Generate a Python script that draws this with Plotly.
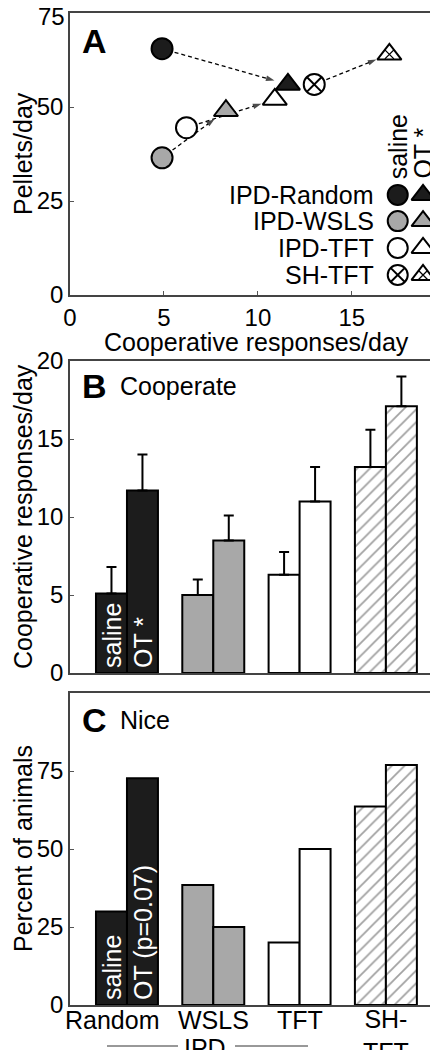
import math
import plotly.graph_objects as go

# ---------------- data ----------------
groups = ["IPD-Random", "IPD-WSLS", "IPD-TFT", "SH-TFT"]
bar_labels = ["Random", "WSLS", "TFT", "SH-<br>TFT"]

# Panel A: cooperative responses/day (x) vs pellets/day (y)
coop_saline = [4.9, 4.9, 6.2, 13.0]
pellets_saline = [65.5, 36.5, 44.5, 56.0]
coop_ot = [11.6, 8.3, 10.9, 17.0]
pellets_ot = [56.0, 49.0, 52.0, 64.0]

# Panel B: cooperate (mean and upper error)
coop_b_saline = [5.1, 5.0, 6.3, 13.2]
coop_b_saline_err = [1.7, 1.0, 1.45, 2.4]
coop_b_ot = [11.7, 8.5, 11.0, 17.1]
coop_b_ot_err = [2.3, 1.6, 2.2, 1.9]

# Panel C: nice (% of animals)
nice_saline = [30.0, 38.5, 20.0, 63.6]
nice_ot = [72.7, 25.0, 50.0, 76.9]

a_xticks = [0, 5, 10, 15]
a_yticks = [0, 25, 50, 75]
b_yticks = [0, 5, 10, 15, 20]
c_yticks = [0, 25, 50, 75]

# ---------------- style ----------------
FONT = "Liberation Sans, Arial, Helvetica, sans-serif"
BLACK = "#1c1c1c"
GREY = "#a8a8a8"
fills = [BLACK, GREY, "white", "white"]
patterns = ["", "", "", "/"]
circ_sym = ["circle", "circle", "circle", "circle-x"]

W, H = 438, 1050
ML, MR, MT, MB = 62, 4, 5, 53
PW = W - ML - MR
PH = H - MT - MB

def py(page_y):  # pixel row -> paper y
    return (H - MB - page_y) / PH

def pxp(page_x):  # pixel col -> paper x
    return (page_x - ML) / PW

domA = [py(287), 1.0]
domB = [py(665), py(353)]
domC = [0.0, py(685)]

AX = [0, 19.8]
AY = [0, 75]
BX = [-0.66, 3.65]
BAR_W = 0.359

fig = go.Figure()

# ---------------- panel A ----------------
sx = PW / (AX[1] - AX[0])
sy = (domA[1] - domA[0]) * PH / (AY[1] - AY[0])
for i in range(4):
    x0, y0, x1, y1 = coop_saline[i], pellets_saline[i], coop_ot[i], pellets_ot[i]
    dxp, dyp = (x1 - x0) * sx, (y1 - y0) * sy
    L = math.hypot(dxp, dyp)
    s0, s1 = 13 / L, 1 - 14 / L
    xs = [x0 + (x1 - x0) * s0, x0 + (x1 - x0) * s1]
    ys = [y0 + (y1 - y0) * s0, y0 + (y1 - y0) * s1]
    fig.add_trace(go.Scatter(
        x=xs, y=ys, mode="lines+markers", xaxis="x", yaxis="y",
        line=dict(color="black", width=1.3, dash="4px,3px"),
        marker=dict(symbol=["circle", "arrow"], size=[0, 9], angleref="previous",
                    color="black", line=dict(width=0)),
        showlegend=False, hoverinfo="skip"))

fig.add_trace(go.Scatter(
    x=coop_saline, y=pellets_saline, mode="markers", xaxis="x", yaxis="y",
    marker=dict(symbol=circ_sym, size=21, color=fills, line=dict(color="black", width=2)),
    showlegend=False))
fig.add_trace(go.Scatter(
    x=coop_ot, y=pellets_ot, mode="markers", xaxis="x", yaxis="y",
    marker=dict(symbol="triangle-up", size=21, color=fills, line=dict(color="black", width=2)),
    showlegend=False))
fig.add_trace(go.Scatter(
    x=coop_ot[3:], y=pellets_ot[3:], mode="markers", xaxis="x", yaxis="y",
    marker=dict(symbol="x-thin-open", size=9, color="black", line=dict(color="black", width=1.3)),
    showlegend=False))

# manual legend (positions as fractions of panel A)
leg_rows = [0.355, 0.262, 0.167, 0.071]
leg_cx, leg_tx, leg_txt = 0.881, 0.949, 0.823
lx = lambda f: AX[0] + f * (AX[1] - AX[0])
ly = lambda f: AY[0] + f * (AY[1] - AY[0])
fig.add_trace(go.Scatter(
    x=[lx(leg_cx)] * 4, y=[ly(f) for f in leg_rows], mode="markers", xaxis="x", yaxis="y",
    marker=dict(symbol=circ_sym, size=20, color=fills, line=dict(color="black", width=2)),
    showlegend=False, hoverinfo="skip"))
fig.add_trace(go.Scatter(
    x=[lx(leg_tx)] * 4, y=[ly(f) for f in leg_rows], mode="markers", xaxis="x", yaxis="y",
    marker=dict(symbol="triangle-up", size=20, color=fills, line=dict(color="black", width=2)),
    showlegend=False, hoverinfo="skip"))
fig.add_trace(go.Scatter(
    x=[lx(leg_tx)], y=[ly(leg_rows[3])], mode="markers", xaxis="x", yaxis="y",
    marker=dict(symbol="x-thin-open", size=9, color="black", line=dict(color="black", width=1.3)),
    showlegend=False, hoverinfo="skip"))

annotations = []
for g, f in zip(groups, leg_rows):
    annotations.append(dict(text=g, x=lx(leg_txt), y=ly(f), xref="x", yref="y",
                            xanchor="right", yanchor="middle", showarrow=False,
                            font=dict(size=25)))
annotations.append(dict(text="saline", x=lx(leg_cx), y=ly(0.404), xref="x", yref="y",
                        xanchor="center", yanchor="bottom", textangle=-90, showarrow=False,
                        font=dict(size=25)))
annotations.append(dict(text="OT *", x=lx(leg_tx), y=ly(0.404), xref="x", yref="y",
                        xanchor="center", yanchor="bottom", textangle=-90, showarrow=False,
                        font=dict(size=25)))

# top tick label of panel A, nudged down a little so it stays on the page
a_ytext = [str(v) for v in a_yticks[:-1]] + [""]
annotations.append(dict(text=str(a_yticks[-1]), x=0, y=1, xref="paper", yref="paper",
                        xanchor="right", yanchor="middle", xshift=-3, yshift=-3, showarrow=False,
                        font=dict(size=24)))

# ---------------- panel B ----------------
zeros = [0, 0, 0, 0]
idx = list(range(4))
pat = dict(shape=patterns, fgcolor="black", bgcolor="white", size=9, solidity=0.2)
fig.add_trace(go.Bar(
    x=idx, y=coop_b_saline, xaxis="x2", yaxis="y2", offsetgroup="s",
    marker=dict(color=fills, line=dict(color="black", width=2), pattern=pat),
    error_y=dict(type="data", symmetric=False, array=coop_b_saline_err, arrayminus=zeros,
                 color="black", thickness=2, width=5),
    showlegend=False))
fig.add_trace(go.Bar(
    x=idx, y=coop_b_ot, xaxis="x2", yaxis="y2", offsetgroup="o",
    marker=dict(color=fills, line=dict(color="black", width=2), pattern=pat),
    error_y=dict(type="data", symmetric=False, array=coop_b_ot_err, arrayminus=zeros,
                 color="black", thickness=2, width=5),
    showlegend=False))

# ---------------- panel C ----------------
fig.add_trace(go.Bar(
    x=idx, y=nice_saline, xaxis="x3", yaxis="y3", offsetgroup="s",
    marker=dict(color=fills, line=dict(color="black", width=2), pattern=pat),
    showlegend=False))
fig.add_trace(go.Bar(
    x=idx, y=nice_ot, xaxis="x3", yaxis="y3", offsetgroup="o",
    marker=dict(color=fills, line=dict(color="black", width=2), pattern=pat),
    showlegend=False))

# in-bar labels
for xr, yr, ot_txt in [("x2", "y2", "OT *"), ("x3", "y3", "OT (p=0.07)")]:
    annotations.append(dict(text="saline", x=-BAR_W / 2, y=0, xref=xr, yref=yr,
                            xanchor="center", yanchor="bottom", yshift=3, textangle=-90,
                            showarrow=False, font=dict(size=25, color="white")))
    annotations.append(dict(text=ot_txt, x=BAR_W / 2, y=0, xref=xr, yref=yr,
                            xanchor="center", yanchor="bottom", yshift=3, textangle=-90,
                            showarrow=False, font=dict(size=25, color="white")))

# panel letters + titles
for letter, word, top, ys in [("A", "", domA[1], -28), ("B", "Cooperate", domB[1], -25),
                              ("C", "Nice", domC[1], -27)]:
    annotations.append(dict(text="<b>%s</b>" % letter, x=pxp(72), y=top, xref="paper", yref="paper",
                            xanchor="left", yanchor="middle", yshift=ys, showarrow=False,
                            font=dict(size=34)))
    if word:
        annotations.append(dict(text=word, x=pxp(110), y=top, xref="paper", yref="paper",
                                xanchor="left", yanchor="middle", yshift=ys, showarrow=False,
                                font=dict(size=25)))

# axis titles
for t, dom in [("Pellets/day", domA), ("Cooperative responses/day", domB), ("Percent of animals", domC)]:
    annotations.append(dict(text=t, x=0, y=(dom[0] + dom[1]) / 2, xref="paper", yref="paper",
                            xanchor="center", yanchor="middle", xshift=-47, textangle=-90,
                            showarrow=False, font=dict(size=25)))
annotations.append(dict(text="Cooperative responses/day", x=pxp(248), y=domA[0], xref="paper", yref="paper",
                        xanchor="center", yanchor="middle", yshift=-47, showarrow=False,
                        font=dict(size=25)))

# category labels under panel C
for i, lab in enumerate(bar_labels):
    two = "<br>" in lab
    annotations.append(dict(text=lab, x=i, y=0, xref="x3", yref="paper",
                            xanchor="center", yanchor="middle",
                            xshift=-14 if i == 0 else 0, yshift=-30 if two else -15,
                            showarrow=False, font=dict(size=25)))
annotations.append(dict(text="IPD", x=pxp(197), y=0, xref="paper", yref="paper",
                        xanchor="center", yanchor="middle", yshift=-43, showarrow=False,
                        font=dict(size=25)))
yl = py(1038)
shapes = [
    dict(type="line", xref="paper", yref="paper", x0=pxp(99), x1=pxp(170), y0=yl, y1=yl,
         line=dict(color="#333", width=1)),
    dict(type="line", xref="paper", yref="paper", x0=pxp(227), x1=pxp(300), y0=yl, y1=yl,
         line=dict(color="#333", width=1)),
]

axis_common = dict(showline=True, mirror=True, linecolor="#444", linewidth=1.5,
                   showgrid=False, zeroline=False, tickfont=dict(size=24), automargin=False,
                   ticklabeloverflow="allow",
                   ticks="inside", ticklen=4, tickcolor="#555", tickwidth=1)

fig.update_layout(
    width=W, height=H, margin=dict(l=ML, r=MR, t=MT, b=MB, autoexpand=False),
    paper_bgcolor="white", plot_bgcolor="white",
    font=dict(family=FONT, color="black", size=24),
    barmode="group", bargap=1 - 2 * BAR_W, bargroupgap=0,
    xaxis=dict(domain=[0, 1], anchor="y", range=AX, tickvals=a_xticks, **axis_common),
    yaxis=dict(domain=domA, anchor="x", range=AY, tickvals=a_yticks, ticktext=a_ytext,
               **axis_common),
    xaxis2=dict(domain=[0, 1], anchor="y2", range=BX, showticklabels=False,
                **{**axis_common, "ticks": ""}),
    yaxis2=dict(domain=domB, anchor="x2", range=[0, 20], tickvals=b_yticks, **axis_common),
    xaxis3=dict(domain=[0, 1], anchor="y3", range=BX, showticklabels=False,
                **{**axis_common, "ticks": ""}),
    yaxis3=dict(domain=domC, anchor="x3", range=[0, 100], tickvals=c_yticks, **axis_common),
    annotations=annotations, shapes=shapes,
)

fig.write_html("out.html")
